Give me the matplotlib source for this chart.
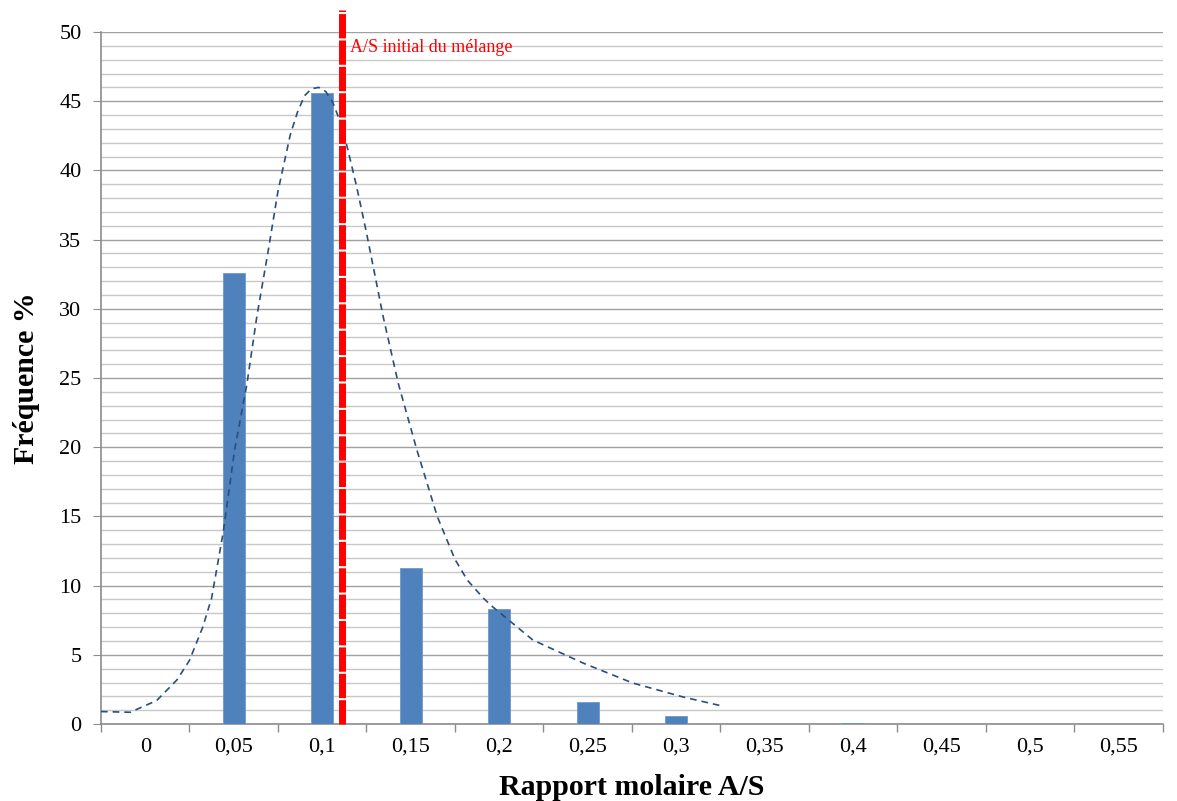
import numpy as np
import matplotlib.pyplot as plt
from matplotlib.ticker import MultipleLocator

# Bars: frequency (%) per A/S class
ratios = [0, 0.05, 0.1, 0.15, 0.2, 0.25, 0.3, 0.35, 0.4, 0.45, 0.5, 0.55]
labels = ["0", "0,05", "0,1", "0,15", "0,2", "0,25", "0,3", "0,35", "0,4", "0,45", "0,5", "0,55"]
freq = [0, 32.6, 45.6, 11.3, 8.3, 1.6, 0.6, 0, 0.1, 0, 0, 0]

# Dashed fitted curve
curve_x = [-0.025, -0.0085, 0.0065, 0.018, 0.025, 0.0325, 0.0375, 0.044, 0.0505,
           0.0575, 0.063, 0.0695, 0.075, 0.082, 0.086, 0.09, 0.094, 0.098,
           0.102, 0.106, 0.1105, 0.1145,
           0.1195, 0.125, 0.1345, 0.143, 0.1535, 0.165, 0.175, 0.182, 0.191,
           0.1965, 0.219, 0.2475, 0.2755, 0.304, 0.326]
curve_y = [0.9, 0.85, 1.7, 3.2, 4.6, 7.0, 9.1, 13.8, 19.8,
           24.6, 29.4, 34.2, 38.5, 42.6, 44.2, 45.4, 45.9, 46.0,
           45.7, 44.9, 43.4, 41.5,
           38.8, 35.5, 29.4, 24.6, 19.8, 15.0, 11.9, 10.4, 9.1,
           8.45, 6.07, 4.4, 2.96, 1.95, 1.3]

initial_ratio = 0.111

plt.rcParams["font.family"] = ["Liberation Serif", "DejaVu Serif"]

fig = plt.figure(figsize=(11.77, 8.01), dpi=100)
ax = fig.add_axes([0.0858, 0.0961, 0.9022, 0.8639])

ax.bar(ratios, freq, width=0.0125, color="#4F81BD", edgecolor="#6F98CB",
       linewidth=0.6, zorder=3)
ax.plot(curve_x, curve_y, color="#2A4E7C", linestyle=(0, (4, 3)), linewidth=1.2,
        zorder=4)

ax.axvline(initial_ratio, ymin=0, ymax=1.032, color="red", linewidth=5,
           linestyle=(0, (3.5, 0.3)), clip_on=False, zorder=5)
ax.text(initial_ratio + 0.0045, 48.9, "A/S initial du mélange", color="red",
        fontsize=13, va="center", ha="left")

ax.set_xlim(-0.025, 0.575)
ax.set_ylim(0, 50)

ax.set_xticks(ratios)
ax.set_xticklabels(labels, fontsize=16)
ax.set_xticks(np.arange(-0.025, 0.576, 0.05), minor=True)
ax.tick_params(axis="x", which="major", length=0, pad=10)
ax.tick_params(axis="x", which="minor", length=6, color="#8C8C8C", width=1)

ax.yaxis.set_major_locator(MultipleLocator(5))
ax.yaxis.set_minor_locator(MultipleLocator(1))
ax.tick_params(axis="y", which="major", length=6, color="#8C8C8C", labelsize=16, pad=8)
ax.tick_params(axis="y", which="minor", length=0)
ax.grid(axis="y", which="major", color="#A0A0A0", linewidth=1.0, zorder=0)
ax.grid(axis="y", which="minor", color="#C8C8C8", linewidth=1.0, zorder=0)
ax.set_axisbelow(True)

for side in ["top", "right"]:
    ax.spines[side].set_visible(False)
for side in ["left", "bottom"]:
    ax.spines[side].set_color("#8C8C8C")
    ax.spines[side].set_linewidth(1.2)

ax.set_xlabel("Rapport molaire A/S", fontsize=21.5, fontweight="bold", labelpad=12)
ax.set_ylabel("Fréquence %", fontsize=21.5, fontweight="bold", labelpad=14)

fig.savefig("out.png", dpi=100)
